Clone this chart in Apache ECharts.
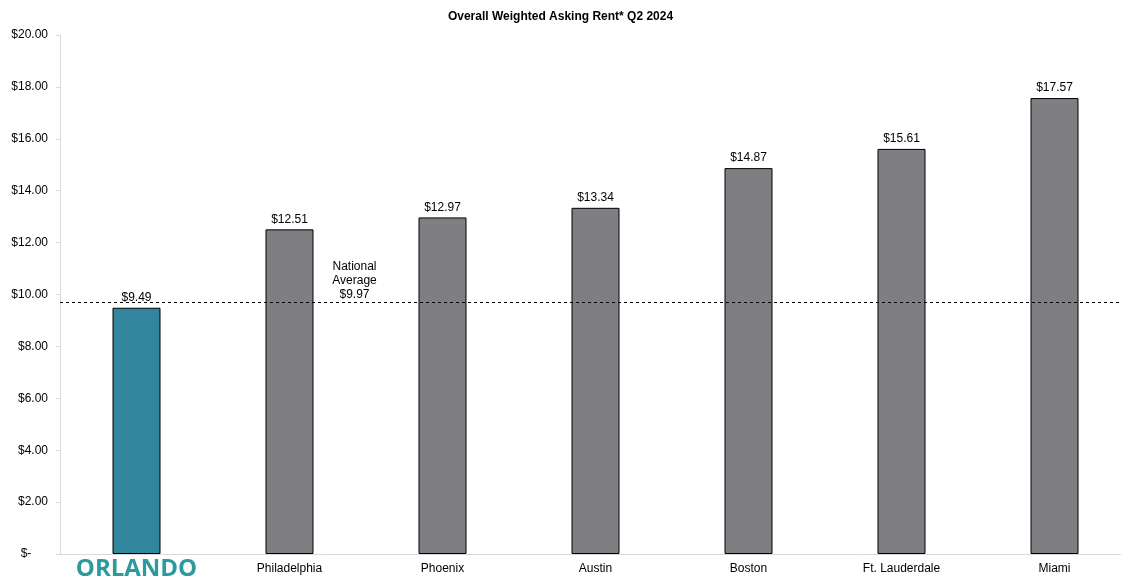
<!DOCTYPE html>
<html><head><meta charset="utf-8">
<script src="https://cdn.jsdelivr.net/npm/echarts@6/dist/echarts.min.js"></script>
<style>html,body{margin:0;padding:0;background:#fff}#c{width:1121px;height:582px}</style>
</head><body><div id="c"></div>
<script>
const categories = ['ORLANDO','Philadelphia','Phoenix','Austin','Boston','Ft. Lauderdale','Miami'];
const rents = [9.49, 12.51, 12.97, 13.34, 14.87, 15.61, 17.57];
const nationalAverageLabel = '$9.97';
const nationalAverageLinePos = 9.72;
const yTicks = [0, 2, 4, 6, 8, 10, 12, 14, 16, 18, 20];

const chart = echarts.init(document.getElementById('c'));
const font = '"Liberation Sans", Arial, sans-serif';
chart.setOption({
  animation: false,
  title: {text: 'Overall Weighted Asking Rent* Q2 2024', left: 'center', top: 6,
    textStyle: {fontFamily: font, fontSize: 12, fontWeight: 'bold', color: '#000'}},
  grid: {left: 60, top: 35, width: 1071, height: 519, containLabel: false, outerBoundsMode: 'none'},
  xAxis: {type: 'category', data: categories,
    axisLine: {lineStyle: {color: '#d9d9d9'}}, axisTick: {show: false},
    axisLabel: {fontFamily: font, fontSize: 12, color: '#000', margin: 2,
      formatter: v => v === 'ORLANDO' ? '{o|' + v + '}' : '{n|' + v + '}',
      rich: {
        o: {fontFamily: '"Open Sans", "Liberation Sans", sans-serif', fontSize: 24, fontWeight: 'bold', color: '#2e9a9c', lineHeight: 26, height: 26},
        n: {fontFamily: font, fontSize: 12, color: '#000', lineHeight: 26, height: 26}}}},
  yAxis: {type: 'value', min: 0, max: 20, interval: 2,
    axisLine: {show: true, lineStyle: {color: '#d9d9d9'}},
    axisTick: {show: true, length: 4, lineStyle: {color: '#d9d9d9'}},
    splitLine: {show: false},
    axisLabel: {fontFamily: font, fontSize: 12, color: '#000', margin: 12,
      formatter: v => v === 0 ? '$-     ' : '$' + v.toFixed(2)}},
  series: [{type: 'bar', barWidth: 48,
    data: rents.map((v, i) => ({value: v, itemStyle: {color: i === 0 ? '#31859c' : '#7f7e83'}})),
    itemStyle: {borderColor: '#000', borderWidth: 1},
    label: {show: true, position: 'top', distance: 4, fontFamily: font, fontSize: 12, color: '#000',
      formatter: p => '$' + p.value.toFixed(2)},
    markLine: {silent: true, symbol: 'none',
      lineStyle: {type: [3, 3], color: '#000', width: 1},
      label: {show: false},
      data: [{yAxis: nationalAverageLinePos}]},
    markPoint: {symbol: 'circle', symbolSize: 0,
      label: {show: true, formatter: 'National\nAverage\n' + nationalAverageLabel,
        fontFamily: font, fontSize: 12, color: '#000', lineHeight: 14, align: 'center', offset: [65, 0]},
      data: [{coord: ['Philadelphia', 10.55]}]}
  }]
});
</script></body></html>
